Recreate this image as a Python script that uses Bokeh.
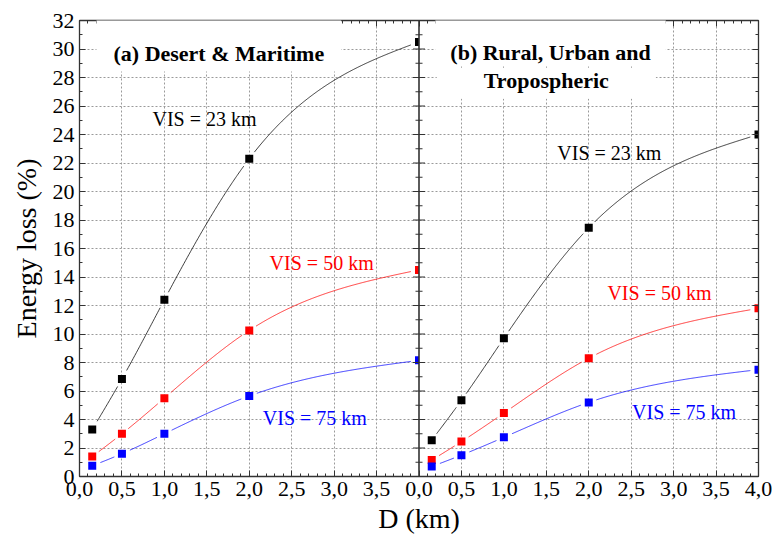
import numpy as np
from bokeh.plotting import figure
from bokeh.models import (Range1d, LinearAxis, FixedTicker, Span, Label,
                          CustomJSTickFormatter)
from bokeh.embed import file_html
from bokeh.resources import INLINE

# ---------------- data ----------------
distance_km = [0.15, 0.5, 1.0, 2.0, 4.0]

# panel (a) Desert & Maritime
desert_vis23 = [3.3, 6.85, 12.4, 22.3, 30.5]
desert_vis50 = [1.4, 3.0, 5.5, 10.25, 14.5]
desert_vis75 = [0.75, 1.6, 3.0, 5.65, 8.15]

# panel (b) Rural, Urban and Tropospheric
rural_vis23 = [2.55, 5.35, 9.7, 17.45, 24.0]
rural_vis50 = [1.15, 2.45, 4.45, 8.3, 11.8]
rural_vis75 = [0.7, 1.5, 2.75, 5.2, 7.5]

series_labels = ["VIS = 23 km", "VIS = 50 km", "VIS = 75 km"]
series_colors = ["#000000", "#ff0000", "#0000ff"]
panel_titles = ["(a) Desert & Maritime", "(b) Rural, Urban and", "Tropospheric"]

x_tick_values = [0.0, 0.5, 1.0, 1.5, 2.0, 2.5, 3.0, 3.5, 4.0]
y_tick_values = list(range(0, 33, 2))
y_label = "Energy loss (%)"
x_label = "D (km)"

PANEL = 4.0
FONT = "Liberation Serif"

# ---------------- helpers ----------------
def natural_cubic(xs, ys, n=400):
    xs = np.asarray(xs, float)
    ys = np.asarray(ys, float)
    m = len(xs)
    h = np.diff(xs)
    A = np.zeros((m, m))
    r = np.zeros(m)
    A[0, 0] = A[-1, -1] = 1.0
    for i in range(1, m - 1):
        A[i, i - 1] = h[i - 1]
        A[i, i] = 2 * (h[i - 1] + h[i])
        A[i, i + 1] = h[i]
        r[i] = 6 * ((ys[i + 1] - ys[i]) / h[i] - (ys[i] - ys[i - 1]) / h[i - 1])
    M = np.linalg.solve(A, r)
    xq = np.linspace(xs[0], xs[-1], n)
    idx = np.clip(np.searchsorted(xs, xq) - 1, 0, m - 2)
    x0, x1 = xs[idx], xs[idx + 1]
    hh = x1 - x0
    a = (x1 - xq) / hh
    b = (xq - x0) / hh
    yq = a * ys[idx] + b * ys[idx + 1] + ((a ** 3 - a) * M[idx] + (b ** 3 - b) * M[idx + 1]) * hh ** 2 / 6
    return xq, yq

PX_X, PX_Y, GAP, HALF = 84.9, 14.25, 8.0, 4.0

def gapped_curve(xs, ys):
    xq, yq = natural_cubic(xs, ys)
    xs_a = np.asarray(xs)[:, None]
    ys_a = np.asarray(ys)[:, None]
    d = np.sqrt(((xq[None, :] - xs_a) * PX_X) ** 2 + ((yq[None, :] - ys_a) * PX_Y) ** 2).min(axis=0)
    yq = yq.copy()
    yq[d < GAP] = np.nan
    return xq, yq

# ---------------- figure ----------------
p = figure(width=772, height=541, output_backend="svg", toolbar_location=None,
           x_range=Range1d(0, 2 * PANEL), y_range=Range1d(0, 32),
           min_border_left=79, min_border_right=14, min_border_top=20, min_border_bottom=65)
p.extra_x_ranges = {"b": Range1d(-PANEL, PANEL)}
p.outline_line_color = None
p.background_fill_color = "white"

major_x = [t for t in x_tick_values[:-1]] + [PANEL + t for t in x_tick_values]
minor_x = list(np.round(np.arange(0, 2 * PANEL + 0.001, 0.1), 3))
overrides = {}
for t in x_tick_values[:-1]:
    overrides[t] = f"{t:.1f}".replace(".", ",")
for t in x_tick_values:
    overrides[PANEL + t] = f"{t:.1f}".replace(".", ",")
minor_y = list(range(0, 33, 1))

AX_COLOR = "#333333"

def style_axis(ax, labels=True):
    ax.axis_line_color = AX_COLOR
    ax.axis_line_width = 1.3
    ax.major_tick_line_color = AX_COLOR
    ax.minor_tick_line_color = AX_COLOR
    ax.major_tick_in = 6
    ax.major_tick_out = 0
    ax.minor_tick_in = 3
    ax.minor_tick_out = 0
    ax.major_label_text_font = FONT
    ax.major_label_text_font_size = "22px"
    ax.major_label_text_color = "black"
    ax.major_label_standoff = 5
    if not labels:
        ax.formatter = CustomJSTickFormatter(code="return ''")

xb = p.below[0]
xb.ticker = FixedTicker(ticks=major_x, minor_ticks=minor_x)
xb.major_label_overrides = overrides
style_axis(xb)
xb.axis_label = x_label
xb.axis_label_text_font = FONT
xb.axis_label_text_font_size = "28px"
xb.axis_label_text_font_style = "normal"
xb.axis_label_text_color = "black"
xb.axis_label_standoff = 4

yl = p.left[0]
yl.ticker = FixedTicker(ticks=y_tick_values, minor_ticks=minor_y)
style_axis(yl)
yl.axis_label = y_label
yl.axis_label_text_font = FONT
yl.axis_label_text_font_size = "28px"
yl.axis_label_text_font_style = "normal"
yl.axis_label_text_color = "black"
yl.axis_label_standoff = 8

xt = LinearAxis(ticker=FixedTicker(ticks=major_x, minor_ticks=minor_x))
style_axis(xt, labels=False)
p.add_layout(xt, "above")
yr = LinearAxis(ticker=FixedTicker(ticks=y_tick_values, minor_ticks=minor_y))
style_axis(yr, labels=False)
p.add_layout(yr, "right")

# grid
p.xgrid.ticker = FixedTicker(ticks=[t for t in major_x if t not in (0.0, PANEL, 2 * PANEL)])
p.ygrid.ticker = FixedTicker(ticks=y_tick_values[1:-1])
for g in (p.xgrid, p.ygrid):
    g.grid_line_color = "#9a9a9a"
    g.grid_line_dash = "2 2"
    g.grid_line_width = 1

# series (markers are clipped at the panel edge, like the original)
panels = [("default", [desert_vis23, desert_vis50, desert_vis75]),
          ("b", [rural_vis23, rural_vis50, rural_vis75])]
hw, hh = HALF / PX_X, HALF / PX_Y
for rng, series in panels:
    for ys, col in zip(series, series_colors):
        xq, yq = gapped_curve(distance_km, ys)
        p.line(xq, yq, line_color=col, line_width=0.9, line_alpha=0.85, x_range_name=rng)
        xs_arr = np.asarray(distance_km)
        ys_arr = np.asarray(ys)
        p.quad(left=xs_arr - hw, right=np.minimum(xs_arr + hw, PANEL),
               bottom=ys_arr - hh, top=ys_arr + hh,
               fill_color=col, line_color=None, x_range_name=rng)

# junction between panels
p.add_layout(Span(location=PANEL, dimension="height", line_color=AX_COLOR, line_width=1.6))
p.scatter([PANEL] * len(y_tick_values[1:-1]), y_tick_values[1:-1], marker="dash",
          size=12, line_color=AX_COLOR, line_width=1.2)
odd_y = [v for v in minor_y if v % 2 == 1]
p.scatter([PANEL] * len(odd_y), odd_y, marker="dash",
          size=7, line_color=AX_COLOR, line_width=1.2)

# titles (white boxes hide the grid behind them)
p.add_layout(Label(x=0.20, y=30.25, text=panel_titles[0], text_font=FONT,
                   text_font_size="22px", text_font_style="bold", text_color="black",
                   text_baseline="middle", text_align="left",
                   background_fill_color="white",
                   padding={"left": 17, "right": 17, "top": 22, "bottom": 5}))
p.add_layout(Label(x=1.50, y=27.6, x_range_name="b", text=panel_titles[2], text_font=FONT,
                   text_font_size="22px", text_font_style="bold", text_color="black",
                   text_baseline="middle", text_align="center",
                   background_fill_color="white",
                   padding={"left": 47, "right": 47, "top": 0, "bottom": 6}))
p.add_layout(Label(x=1.55, y=30.5, x_range_name="b", text=panel_titles[1], text_font=FONT,
                   text_font_size="22px", text_font_style="bold", text_color="black",
                   text_baseline="middle", text_align="center",
                   background_fill_color="white",
                   padding={"left": 15, "right": 15, "top": 22, "bottom": 0}))

# series annotations
ann = [("default", [(0.86, 25.1), (2.24, 14.95), (2.16, 4.14)]),
       ("b", [(1.63, 22.7), (2.22, 12.85), (2.51, 4.56)])]
for rng, pos in ann:
    for (ax_, ay_), txt, col in zip(pos, series_labels, series_colors):
        p.add_layout(Label(x=ax_, y=ay_, x_range_name=rng, text=txt, text_font=FONT,
                           text_font_size="20px", text_color=col,
                           text_baseline="middle", text_align="left"))

open("out.html", "w").write(file_html(p, INLINE))
